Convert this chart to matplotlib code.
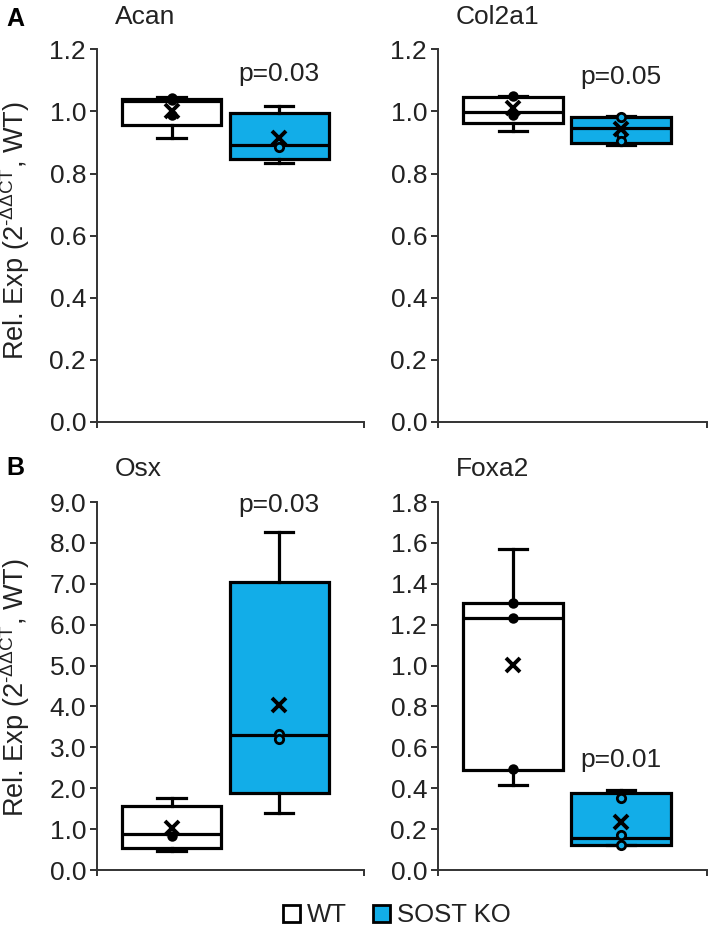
import matplotlib
matplotlib.use("Agg")
import matplotlib.pyplot as plt
from matplotlib.patches import Patch

plt.rcParams['font.family'] = ['Liberation Sans', 'DejaVu Sans']
plt.rcParams['mathtext.fontset'] = 'custom'
plt.rcParams['mathtext.rm'] = 'Liberation Sans'

# valores
genes = ['Acan', 'Col2a1', 'Osx', 'Foxa2']
p_labels = ['p=0.03', 'p=0.05', 'p=0.03', 'p=0.01']
p_y = [1.12, 1.112, 8.92, 0.54]
y_max = [1.2, 1.2, 9.0, 1.8]
y_step = [0.2, 0.2, 1.0, 0.2]

wt_whislo = [0.915, 0.938, 0.47, 0.416]
wt_q1 = [0.958, 0.963, 0.54, 0.49]
wt_med = [1.035, 0.998, 0.88, 1.233]
wt_q3 = [1.040, 1.046, 1.56, 1.306]
wt_whishi = [1.048, 1.049, 1.76, 1.57]
wt_mean = [1.0, 1.01, 1.03, 1.003]
wt_points = [[1.045, 1.038, 0.99], [1.049, 0.989], [0.83], [1.306, 1.233, 0.494]]

ko_whislo = [0.835, 0.893, 1.39, 0.122]
ko_q1 = [0.848, 0.897, 1.88, 0.122]
ko_med = [0.893, 0.948, 3.30, 0.157]
ko_q3 = [0.995, 0.983, 7.04, 0.377]
ko_whishi = [1.019, 0.985, 8.26, 0.39]
ko_mean = [0.915, 0.945, 4.03, 0.235]
ko_points = [[0.887], [0.983, 0.929, 0.905], [3.32, 3.2], [0.352, 0.17, 0.122]]

azul = '#12ADE8'
gris = '#222222'

fig = plt.figure(figsize=(7.09, 9.33), dpi=100)

posiciones = [
    [0.137, 0.548, 0.377, 0.399],
    [0.618, 0.548, 0.379, 0.399],
    [0.137, 0.0675, 0.377, 0.3944],
    [0.618, 0.0675, 0.379, 0.3944],
]


def stats(i):
    wt = dict(whislo=wt_whislo[i], q1=wt_q1[i], med=wt_med[i], q3=wt_q3[i],
              whishi=wt_whishi[i], mean=wt_mean[i], fliers=[])
    ko = dict(whislo=ko_whislo[i], q1=ko_q1[i], med=ko_med[i], q3=ko_q3[i],
              whishi=ko_whishi[i], mean=ko_mean[i], fliers=[])
    return [wt, ko]


for i in range(4):
    ax = fig.add_axes(posiciones[i])
    bp = ax.bxp(stats(i), positions=[1, 2], widths=0.92, capwidths=0.26,
                patch_artist=True, showfliers=False,
                boxprops=dict(edgecolor='black', linewidth=2.3),
                medianprops=dict(color='black', linewidth=2.3),
                whiskerprops=dict(color='black', linewidth=2.3),
                capprops=dict(color='black', linewidth=2.3))
    bp['boxes'][0].set_facecolor('white')
    bp['boxes'][1].set_facecolor(azul)
    ax.plot([1] * len(wt_points[i]), wt_points[i], 'o', ms=6, mfc='black', mec='black',
            mew=1.5, zorder=4)
    ax.plot([2] * len(ko_points[i]), ko_points[i], 'o', ms=6, mfc=azul, mec='black',
            mew=2, zorder=4)
    ax.plot([1, 2], [wt_mean[i], ko_mean[i]], 'x', color='black', ms=10, mew=2.8, ls='none', zorder=5)

    ax.text(2, p_y[i], p_labels[i], ha='center', va='center', fontsize=19, color=gris)

    top = y_max[i]
    ax.set_ylim(0, top)
    ax.set_xlim(0.31, 2.79)
    n = int(round(top / y_step[i]))
    ax.set_yticks([k * y_step[i] for k in range(n + 1)])
    ax.set_yticklabels(['%.1f' % (k * y_step[i]) for k in range(n + 1)])
    ax.set_xticks([0.31, 2.79])
    ax.set_xticklabels(['', ''])
    ax.tick_params(axis='y', direction='out', length=5, width=1.3, colors=gris,
                   labelsize=19, pad=3)
    ax.tick_params(axis='x', direction='out', length=4, width=1.3, colors=gris)
    for s in ['top', 'right']:
        ax.spines[s].set_visible(False)
    for s in ['left', 'bottom']:
        ax.spines[s].set_linewidth(1.4)
        ax.spines[s].set_color('#333333')
    ax.patch.set_alpha(0)

    x0, y0, w, h = posiciones[i]
    fig.text(x0 + 0.025, y0 + h + 0.035, genes[i], fontsize=19, color=gris,
             ha='left', va='center')

fig.text(0.021, 0.98, 'A', fontsize=18, fontweight='bold', ha='center', va='center')
fig.text(0.021, 0.498, 'B', fontsize=18, fontweight='bold', ha='center', va='center')

etiqueta = 'Rel. Exp (2$^{\\mathregular{\u2010ΔΔCT}}$, WT)'
fig.text(0.022, 0.753, etiqueta, rotation=90, fontsize=19.5, color=gris,
         ha='center', va='center')
fig.text(0.022, 0.263, etiqueta, rotation=90, fontsize=19.5, color=gris,
         ha='center', va='center')

handles = [Patch(facecolor='white', edgecolor='black', linewidth=2),
           Patch(facecolor=azul, edgecolor='black', linewidth=2)]
fig.legend(handles, ['WT', 'SOST KO'], loc='center', bbox_to_anchor=(0.56, 0.019),
           ncol=2, frameon=False, fontsize=18.5, handlelength=0.65, handleheight=0.65,
           handletextpad=0.3, columnspacing=1.0, labelcolor=gris)

fig.savefig('out.png', dpi=100)
